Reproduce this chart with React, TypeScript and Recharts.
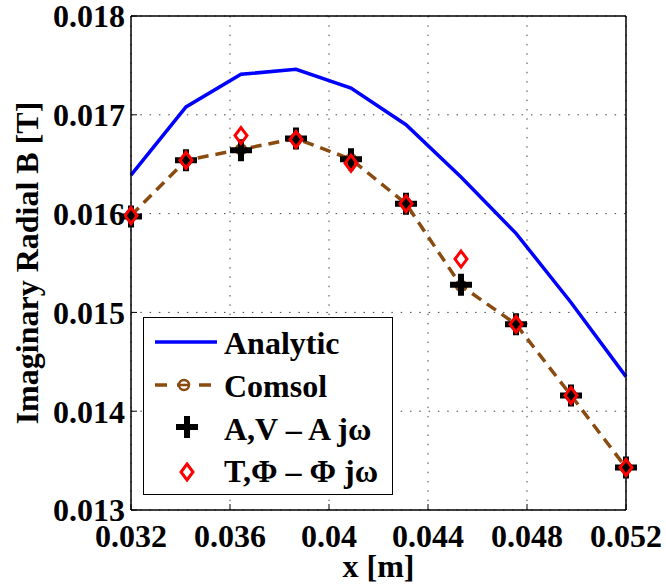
import React from 'react';
import { ComposedChart, Line, XAxis, YAxis, CartesianGrid, Legend } from 'recharts';

const xPositions = [0.032, 0.034222, 0.036444, 0.038667, 0.040889, 0.043111, 0.045333, 0.047556, 0.049778, 0.052];
const analytic = [0.01639, 0.01708, 0.01741, 0.01746, 0.01727, 0.0169, 0.01637, 0.0158, 0.0151, 0.01435];
const comsol = [0.01598, 0.01654, 0.01665, 0.01676, 0.01655, 0.0161, 0.01527, 0.01488, 0.01416, 0.01343];
const avSolution = [0.01597, 0.01654, 0.01664, 0.01676, 0.01655, 0.0161, 0.01528, 0.01488, 0.01416, 0.01343];
const tphiSolution = [0.01598, 0.01654, 0.01679, 0.01675, 0.01651, 0.0161, 0.01554, 0.01488, 0.01416, 0.01343];

const xTicks = [0.032, 0.036, 0.04, 0.044, 0.048, 0.052];
const yTicks = [0.013, 0.014, 0.015, 0.016, 0.017, 0.018];

const legendLabels = ['Analytic', 'Comsol', 'A,V \u2013 A j\u03c9', 'T,\u03a6 \u2013 \u03a6 j\u03c9'];

const data = xPositions.map((x, i) => ({
  x,
  analytic: analytic[i],
  comsol: comsol[i],
  av: avSolution[i],
  tphi: tphiSolution[i],
}));

const FONT = '"Liberation Serif", "Times New Roman", Times, serif';
const BLUE = '#0000ff';
const BROWN = '#8a4b10';
const RED = '#ff0000';

const textStyle = { fill: '#000', fontSize: 32, fontWeight: 'bold' as const, fontFamily: FONT };

const plusPath = (cx: number, cy: number, s: number) => `M${cx - s},${cy}H${cx + s}M${cx},${cy - s}V${cy + s}`;
const diamondPath = (cx: number, cy: number, w: number, h: number) =>
  `M${cx},${cy - h}L${cx + w},${cy}L${cx},${cy + h}L${cx - w},${cy}Z`;

const CircleDot = (p: any) => (
  <circle key={`c${p.index}`} cx={p.cx} cy={p.cy} r={5} fill="none" stroke={BROWN} strokeWidth={2.5} />
);
const PlusDot = (p: any) => (
  <path key={`p${p.index}`} d={plusPath(p.cx, p.cy, 11)} stroke="#000" strokeWidth={6} fill="none" />
);
const DiamondDot = (p: any) => (
  <path key={`d${p.index}`} d={diamondPath(p.cx, p.cy, 6, 8)} stroke={RED} strokeWidth={3} fill="none" />
);

const LegendBox = () => (
  <div style={{ width: 250, height: 178, border: '1.5px solid #000', background: '#fff', boxSizing: 'border-box' }}>
    <svg width={247} height={175} style={{ display: 'block' }}>
      <line x1={11} x2={73} y1={24} y2={24} stroke={BLUE} strokeWidth={3.5} />
      <line x1={11} x2={73} y1={67} y2={67} stroke={BROWN} strokeWidth={3.5} strokeDasharray="12 10" />
      <circle cx={40} cy={67} r={5} fill="#fff" stroke={BROWN} strokeWidth={2.5} />
      <line x1={35} x2={45} y1={67} y2={67} stroke={BROWN} strokeWidth={2.5} />
      <path d={plusPath(43, 109, 11)} stroke="#000" strokeWidth={6} fill="none" />
      <path d={diamondPath(43, 154, 6, 8)} stroke={RED} strokeWidth={3} fill="none" />
      {legendLabels.map((label, i) => (
        <text key={label} x={80} y={[36, 79, 122, 164][i]} {...textStyle}>
          {label}
        </text>
      ))}
    </svg>
  </div>
);

export default function App() {
  return (
    <div style={{ position: 'absolute', left: 0, top: 0, background: '#fff' }}>
      <ComposedChart width={666} height={588} data={data} margin={{ top: 15, right: 39, bottom: 0, left: 0 }}>
        <CartesianGrid stroke="#444" strokeDasharray="1.5 7.8" />
        <XAxis
          dataKey="x"
          type="number"
          domain={[0.032, 0.052]}
          ticks={xTicks}
          interval={0}
          height={78}
          tickSize={-6}
          tickMargin={20}
          axisLine={{ stroke: '#000', strokeWidth: 1.5 }}
          tickLine={{ stroke: '#000' }}
          tick={textStyle}
          label={{ value: 'x [m]', position: 'insideBottom', offset: 11, ...textStyle, style: textStyle }}
        />
        <XAxis
          xAxisId="top"
          orientation="top"
          dataKey="x"
          type="number"
          domain={[0.032, 0.052]}
          ticks={xTicks}
          interval={0}
          height={1}
          tickSize={-6}
          tick={false}
          axisLine={{ stroke: '#000', strokeWidth: 1.5 }}
          tickLine={{ stroke: '#000' }}
        />
        <YAxis
          type="number"
          domain={[0.013, 0.018]}
          ticks={yTicks}
          interval={0}
          width={131}
          tickSize={-6}
          tickMargin={12}
          axisLine={{ stroke: '#000', strokeWidth: 1.5 }}
          tickLine={{ stroke: '#000' }}
          tick={textStyle}
          label={{
            value: 'Imaginary Radial B [T]',
            angle: -90,
            position: 'insideLeft',
            offset: 27,
            ...textStyle,
            style: { ...textStyle, textAnchor: 'middle' },
          }}
        />
        <YAxis
          yAxisId="right"
          orientation="right"
          type="number"
          domain={[0.013, 0.018]}
          ticks={yTicks}
          interval={0}
          width={1}
          tickSize={-6}
          tick={false}
          axisLine={{ stroke: '#000', strokeWidth: 1.5 }}
          tickLine={{ stroke: '#000' }}
        />
        <Legend
          layout="horizontal"
          verticalAlign="middle"
          align="center"
          content={() => <LegendBox />}
          wrapperStyle={{ left: 143, top: 317, width: 250, height: 178 }}
        />
        <Line dataKey="analytic" stroke={BLUE} strokeWidth={3.5} dot={false} isAnimationActive={false} />
        <Line
          dataKey="comsol"
          stroke={BROWN}
          strokeWidth={3.5}
          strokeDasharray="11 7"
          dot={CircleDot}
          isAnimationActive={false}
        />
        <Line dataKey="av" stroke="none" dot={PlusDot} isAnimationActive={false} />
        <Line dataKey="tphi" stroke="none" dot={DiamondDot} isAnimationActive={false} />
      </ComposedChart>
    </div>
  );
}
